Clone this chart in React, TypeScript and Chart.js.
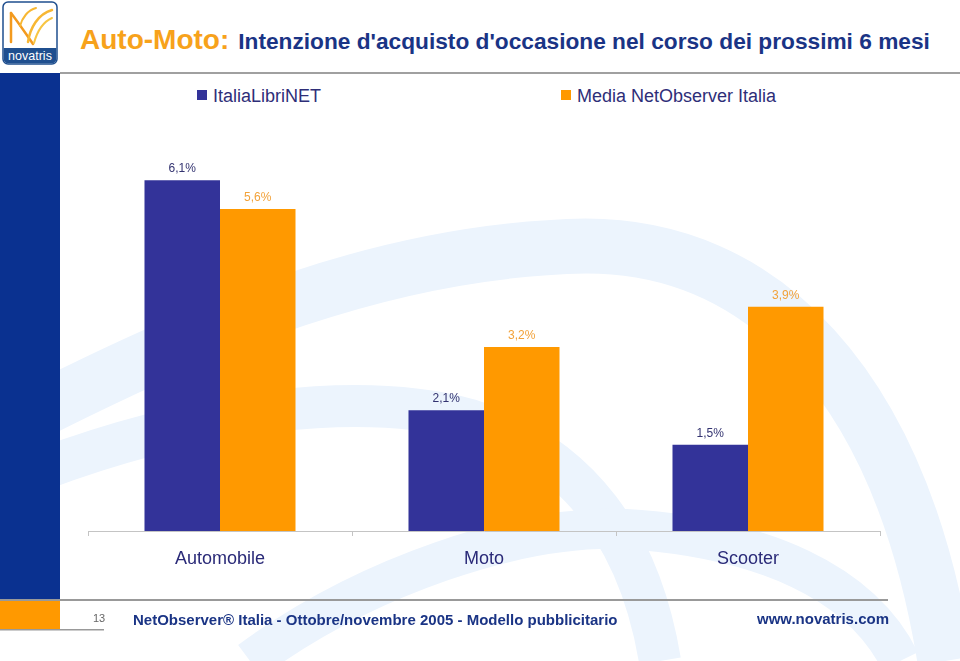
import React, { useEffect, useRef } from "react";
import { Chart, registerables } from "chart.js";

Chart.register(...registerables);

const categories = ["Automobile", "Moto", "Scooter"];
const seriesNames = ["ItaliaLibriNET", "Media NetObserver Italia"];
const italiaLibriNet = [6.1, 2.1, 1.5];
const mediaNetObserver = [5.6, 3.2, 3.9];
const seriesColors = ["#333399", "#FF9900"];
const labelColors = ["#333370", "#F2A23A"];

const fmt = (v: number) => v.toFixed(1).replace(".", ",") + "%";

const valueLabels = {
  id: "valueLabels",
  afterDatasetsDraw(chart: any) {
    const ctx = chart.ctx;
    ctx.save();
    ctx.font = "12px 'Liberation Sans', Arial, sans-serif";
    ctx.textAlign = "center";
    ctx.textBaseline = "alphabetic";
    chart.data.datasets.forEach((ds: any, i: number) => {
      const meta = chart.getDatasetMeta(i);
      meta.data.forEach((el: any, j: number) => {
        ctx.fillStyle = labelColors[i];
        ctx.fillText(fmt(ds.data[j]), el.x, el.y - 8);
      });
    });
    ctx.restore();
  },
};

export default function App() {
  const ref = useRef<HTMLCanvasElement>(null);
  useEffect(() => {
    document.body.style.margin = "0";
    const chart = new Chart(ref.current!, {
      type: "bar",
      data: {
        labels: categories,
        datasets: [
          { label: seriesNames[0], data: italiaLibriNet, backgroundColor: seriesColors[0], barPercentage: 1, categoryPercentage: 0.572 },
          { label: seriesNames[1], data: mediaNetObserver, backgroundColor: seriesColors[1], barPercentage: 1, categoryPercentage: 0.572 },
        ],
      },
      options: {
        responsive: false,
        animation: false,
        layout: { padding: { left: 88, right: 80, top: 128.5, bottom: 0 } },
        plugins: { legend: { display: false }, tooltip: { enabled: false }, title: { display: false } },
        scales: {
          y: { display: false, min: 0, max: 7 },
          x: {
            offset: true,
            grid: { display: true, drawOnChartArea: false, drawTicks: true, tickLength: 5, color: "#c4c4c4", offset: true },
            border: { display: true, color: "#c4c4c4" },
            ticks: { color: "#2a2a78", padding: 12, font: { size: 18, family: "'Liberation Sans', Arial, sans-serif" } },
            afterFit: (s: any) => { s.height = 130; },
          },
        },
      },
      plugins: [valueLabels],
    });
    return () => chart.destroy();
  }, []);

  const navy = "#1a3485";
  const font = "'Liberation Sans', Arial, sans-serif";
  return (
    <div style={{ position: "fixed", left: 0, top: 0, width: 960, height: 661, background: "#fff", overflow: "hidden", fontFamily: font }}>
      <svg width={960} height={661} style={{ position: "absolute", left: 0, top: 0 }}>
        <g fill="none" stroke="#ecf4fd" strokeLinecap="butt">
          <path d="M 40 410 C 200 330, 380 250, 586 246 C 760 246, 900 380, 945 661" strokeWidth={55} />
          <path d="M 40 470 C 200 410, 360 390, 470 420 C 580 455, 640 540, 660 661" strokeWidth={42} />
          <path d="M 250 661 C 360 580, 520 520, 640 530 C 760 540, 860 580, 900 661" strokeWidth={40} />
        </g>
        <rect x={60} y={72} width={900} height={2} fill="#a0a0a0" />
        <rect x={0} y={73} width={60} height={527} fill="#0a3190" />
        <rect x={0} y={601} width={60} height={28} fill="#FF9900" />
        <rect x={0} y={599} width={888} height={2} fill="#999999" />
        <rect x={0} y={629} width={104} height={1.5} fill="#999999" />
        {/* logo */}
        <rect x={3} y={2} width={54} height={62} rx={5} fill="#ffffff" stroke="#1f4f8f" strokeWidth={1.5} />
        <path d="M 3.75 48 H 56.25 V 59 a 4.25 4.25 0 0 1 -4.25 4.25 H 8 a 4.25 4.25 0 0 1 -4.25 -4.25 Z" fill="#1f4f8f" />
        <g fill="none" strokeLinecap="round">
          <path d="M 11 13 L 11 42" stroke="#f39a1e" strokeWidth={2.5} />
          <path d="M 11 13 C 18 22, 26 34, 33 44" stroke="#f39a1e" strokeWidth={2.5} />
          <path d="M 28 42 C 30 28, 38 14, 52 10" stroke="#f7b733" strokeWidth={2.5} />
          <path d="M 34 43 C 37 32, 43 22, 52 18" stroke="#f7c543" strokeWidth={2} />
          <path d="M 20 26 C 22 18, 28 10, 36 8" stroke="#f7b733" strokeWidth={2} />
        </g>
        <text x={30} y={60} textAnchor="middle" fill="#ffffff" fontSize={12.5} fontFamily={font}>novatris</text>
      </svg>

      <div style={{ position: "absolute", left: 80, top: 21, whiteSpace: "nowrap", lineHeight: "38px" }}>
        <span style={{ color: "#F7A21B", fontSize: 28, fontWeight: "bold" }}>Auto-Moto:</span>
        <span style={{ color: navy, fontSize: 22.7, fontWeight: "bold", marginLeft: 9 }}>Intenzione d'acquisto d'occasione nel corso dei prossimi 6 mesi</span>
      </div>

      <div style={{ position: "absolute", left: 197, top: 90, width: 10, height: 10, background: seriesColors[0] }} />
      <div style={{ position: "absolute", left: 213, top: 86, fontSize: 18, color: "#2e2e78", whiteSpace: "nowrap", lineHeight: "20px" }}>{seriesNames[0]}</div>
      <div style={{ position: "absolute", left: 561, top: 90, width: 10, height: 10, background: seriesColors[1] }} />
      <div style={{ position: "absolute", left: 577, top: 86, fontSize: 18, color: "#2e2e78", whiteSpace: "nowrap", lineHeight: "20px" }}>{seriesNames[1]}</div>

      <canvas ref={ref} width={960} height={661} style={{ position: "absolute", left: 0, top: 0 }} />

      <div style={{ position: "absolute", left: 93, top: 611, fontSize: 11, color: "#666", lineHeight: "14px" }}>13</div>
      <div style={{ position: "absolute", left: 133, top: 611, fontSize: 15, fontWeight: "bold", color: navy, whiteSpace: "nowrap", lineHeight: "18px" }}>NetObserver® Italia - Ottobre/novembre 2005 - Modello pubblicitario</div>
      <div style={{ position: "absolute", left: 757, top: 610, fontSize: 15, fontWeight: "bold", color: navy, whiteSpace: "nowrap", lineHeight: "18px" }}>www.novatris.com</div>
    </div>
  );
}
